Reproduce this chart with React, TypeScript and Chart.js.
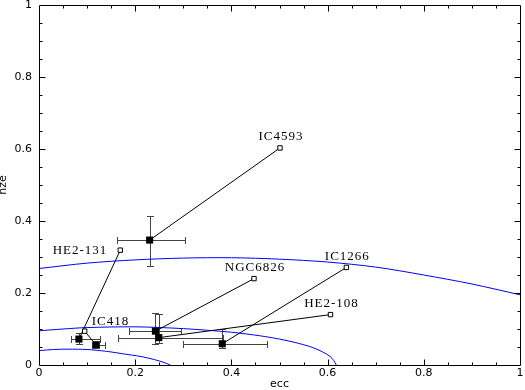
import React, { useEffect, useRef } from "react";
import { Chart, registerables } from "chart.js";

Chart.register(...registerables);

// ---- data ----
const names = ["IC4593", "HE2-131", "IC418", "NGC6826", "HE2-108", "IC1266"];
const openX = [0.501, 0.169, 0.095, 0.447, 0.606, 0.639];
const openY = [0.603, 0.319, 0.094, 0.24, 0.14, 0.271];
const filledX = [0.23, 0.083, 0.119, 0.242, 0.249, 0.381];
const filledY = [0.347, 0.072, 0.055, 0.094, 0.076, 0.059];
const xErrLo = [0.163, 0.066, 0.11, 0.187, 0.164, 0.3];
const xErrHi = [0.304, 0.126, 0.138, 0.296, 0.382, 0.475];
const yErrLo = [0.276, 0.058, 0.049, 0.058, 0.06, 0.047];
const yErrHi = [0.413, 0.088, 0.066, 0.145, 0.141, 0.099];

const curveAX = [0, 0.1, 0.2, 0.3, 0.4, 0.5, 0.6, 0.7, 0.8, 0.9, 1.0];
const curveAY = [0.268, 0.283, 0.292, 0.297, 0.298, 0.294, 0.286, 0.272, 0.25, 0.225, 0.195];
const curveBX = [0, 0.05, 0.1, 0.2, 0.3, 0.4, 0.46, 0.5, 0.54, 0.57, 0.59, 0.605, 0.613, 0.618];
const curveBY = [0.095, 0.1, 0.104, 0.106, 0.101, 0.091, 0.081, 0.072, 0.06, 0.048, 0.036, 0.024, 0.012, 0];
const curveCX = [0, 0.03, 0.06, 0.1, 0.14, 0.18, 0.21, 0.24, 0.26, 0.273];
const curveCY = [0.04, 0.043, 0.044, 0.043, 0.038, 0.03, 0.024, 0.015, 0.007, 0];

const xTicks = [0, 0.2, 0.4, 0.6, 0.8, 1];
const yTicks = [0, 0.2, 0.4, 0.6, 0.8, 1];
const xTitle = "ecc";
const yTitle = "nze";

const SANS = "'DejaVu Sans', sans-serif";
const SERIF = "'Liberation Serif', serif";

const pts = (xs: number[], ys: number[]) => xs.map((x, i) => ({ x, y: ys[i] }));

const framePlugin = {
  id: "frame",
  beforeDatasetsDraw(chart: any) {
    const { ctx, scales } = chart;
    const sx = scales.x;
    const sy = scales.y;
    ctx.save();
    ctx.strokeStyle = "#444";
    ctx.lineWidth = 1;
    const cap = 3.5;
    for (let i = 0; i < filledX.length; i++) {
      const px = Math.round(sx.getPixelForValue(filledX[i])) + 0.5;
      const py = Math.round(sy.getPixelForValue(filledY[i])) + 0.5;
      const x0 = Math.round(sx.getPixelForValue(xErrLo[i])) + 0.5;
      const x1 = Math.round(sx.getPixelForValue(xErrHi[i])) + 0.5;
      const y0 = Math.round(sy.getPixelForValue(yErrLo[i])) + 0.5;
      const y1 = Math.round(sy.getPixelForValue(yErrHi[i])) + 0.5;
      ctx.beginPath();
      ctx.moveTo(x0, py);
      ctx.lineTo(x1, py);
      ctx.moveTo(x0, py - cap);
      ctx.lineTo(x0, py + cap);
      ctx.moveTo(x1, py - cap);
      ctx.lineTo(x1, py + cap);
      ctx.moveTo(px, y0);
      ctx.lineTo(px, y1);
      ctx.moveTo(px - cap, y0);
      ctx.lineTo(px + cap, y0);
      ctx.moveTo(px - cap, y1);
      ctx.lineTo(px + cap, y1);
      ctx.stroke();
    }
    ctx.restore();
  },
  afterDatasetsDraw(chart: any) {
    const { ctx, chartArea, scales } = chart;
    const sx = scales.x;
    const sy = scales.y;
    const L = Math.round(chartArea.left) + 0.5;
    const R = Math.round(chartArea.right) + 0.5;
    const T = Math.round(chartArea.top) + 0.5;
    const B = Math.round(chartArea.bottom) + 0.5;
    ctx.save();
    ctx.strokeStyle = "#000";
    ctx.lineWidth = 1;
    ctx.beginPath();
    ctx.rect(L, T, R - L, B - T);
    for (let k = 1; k < 20; k++) {
      const v = k * 0.05;
      const len = k % 4 === 0 ? 6 : 3;
      const px = Math.round(sx.getPixelForValue(v)) + 0.5;
      const py = Math.round(sy.getPixelForValue(v)) + 0.5;
      ctx.moveTo(px, B);
      ctx.lineTo(px, B - len);
      ctx.moveTo(px, T);
      ctx.lineTo(px, T + len);
      ctx.moveTo(L, py);
      ctx.lineTo(L + len, py);
      ctx.moveTo(R, py);
      ctx.lineTo(R - len, py);
    }
    ctx.stroke();

    // labels
    ctx.fillStyle = "#000";
    ctx.font = `13px ${SERIF}`;
    try {
      (ctx as any).letterSpacing = "1px";
    } catch (e) {}
    ctx.textBaseline = "alphabetic";
    for (let i = 0; i < names.length; i++) {
      const px = sx.getPixelForValue(openX[i]);
      const py = sy.getPixelForValue(openY[i]);
      const n = names[i];
      if (n === "HE2-131") {
        ctx.textAlign = "right";
        ctx.fillText(n, px - 13, py + 3.5);
      } else if (n === "IC418") {
        ctx.textAlign = "left";
        ctx.fillText(n, px + 7, py - 6);
      } else {
        ctx.textAlign = "center";
        ctx.fillText(n, px + 1, py - 7.5);
      }
    }
    ctx.restore();
  },
};

export default function App() {
  const ref = useRef<HTMLCanvasElement>(null);
  useEffect(() => {
    const canvas = ref.current;
    if (!canvas) return;
    const datasets: any[] = [];
    datasets.push({
      label: "filled",
      data: pts(filledX, filledY),
      pointStyle: "rect",
      pointRadius: 5,
      backgroundColor: "#000",
      borderColor: "#000",
      borderWidth: 0,
      showLine: false,
    });
    datasets.push({
      label: "open",
      data: pts(openX, openY),
      pointStyle: "rect",
      pointRadius: 3.1,
      backgroundColor: "#fff",
      borderColor: "#000",
      borderWidth: 1,
      showLine: false,
    });
    names.forEach((n, i) => {
      datasets.push({
        label: "link " + n,
        data: [
          { x: openX[i], y: openY[i] },
          { x: filledX[i], y: filledY[i] },
        ],
        showLine: true,
        pointRadius: 0,
        borderColor: "#000",
        borderWidth: 1,
      });
    });
    [
      [curveAX, curveAY],
      [curveBX, curveBY],
      [curveCX, curveCY],
    ].forEach(([xs, ys], k) => {
      datasets.push({
        label: "curve " + k,
        data: pts(xs, ys),
        showLine: true,
        pointRadius: 0,
        borderColor: "#0000ff",
        borderWidth: 1,
        tension: 0.3,
      });
    });

    const tickFont = { family: SANS, size: 11 };
    const chart = new Chart(canvas, {
      type: "scatter",
      data: { datasets },
      plugins: [framePlugin],
      options: {
        responsive: false,
        maintainAspectRatio: false,
        animation: false,
        layout: { padding: { left: 0, right: 3, top: 4, bottom: 0 } },
        plugins: { legend: { display: false }, tooltip: { enabled: false } },
        scales: {
          x: {
            type: "linear",
            min: 0,
            max: 1,
            afterBuildTicks: (s: any) => {
              s.ticks = xTicks.map((v) => ({ value: v }));
            },
            afterFit: (s: any) => {
              s.height = 25;
              s.paddingLeft = 0;
              s.paddingRight = 0;
            },
            grid: { display: false, drawTicks: false },
            border: { display: false },
            ticks: {
              padding: 2,
              color: "#000",
              font: tickFont,
              maxRotation: 0,
              autoSkip: false,
              callback: (v: any) => String(v),
            },
            title: {
              display: true,
              text: xTitle,
              color: "#000",
              font: { family: SANS, size: 11, lineHeight: 1 },
              padding: { top: 0, bottom: 0 },
            },
          },
          y: {
            type: "linear",
            min: 0,
            max: 1,
            afterBuildTicks: (s: any) => {
              s.ticks = yTicks.map((v) => ({ value: v }));
            },
            afterFit: (s: any) => {
              s.width = 39;
              s.paddingTop = 0;
              s.paddingBottom = 0;
            },
            grid: { display: false, drawTicks: false },
            border: { display: false },
            ticks: {
              padding: 7,
              color: "#000",
              font: tickFont,
              autoSkip: false,
              callback: (v: any) => String(v),
            },
            title: {
              display: true,
              text: yTitle,
              color: "#000",
              font: { family: SANS, size: 11, lineHeight: 1 },
              padding: { top: -2.5, bottom: 0 },
            },
          },
        },
      } as any,
    });
    return () => chart.destroy();
  }, []);

  return (
    <div style={{ position: "fixed", left: 0, top: 0, width: 525, height: 390, background: "#fff" }}>
      <canvas ref={ref} width={525} height={390} style={{ display: "block" }} />
    </div>
  );
}
